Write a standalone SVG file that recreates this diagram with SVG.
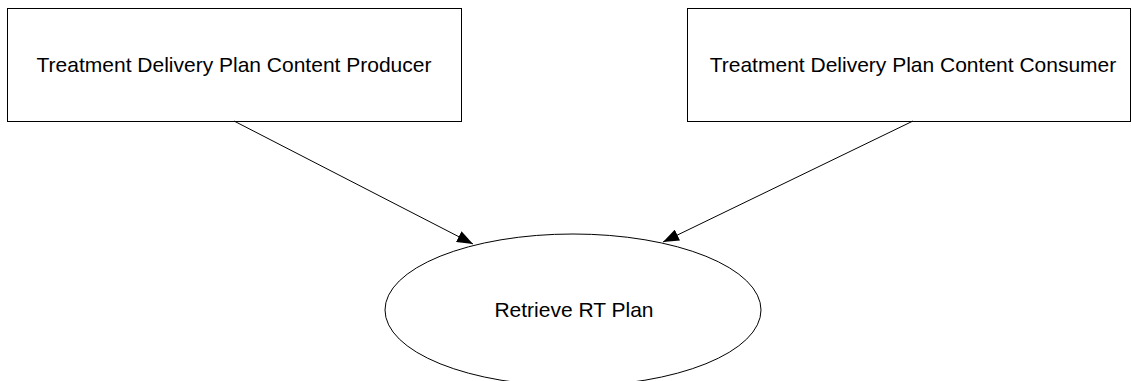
<svg xmlns="http://www.w3.org/2000/svg" width="1131" height="381" viewBox="0 0 1131 381">
<style>
.box{fill:#fff;stroke:#000;stroke-width:1}
.lbl{font-family:"Liberation Sans",Arial,sans-serif;font-size:21px;fill:#000;text-anchor:middle}
.edge{stroke:#000;stroke-width:1;fill:none}
</style>
<defs>
<marker id="arr" viewBox="0 0 16 12" refX="16" refY="6" markerWidth="16" markerHeight="12" markerUnits="userSpaceOnUse" orient="auto">
<path d="M0,0 L16,6 L0,12 Z" fill="#000"/>
</marker>
</defs>
<rect width="1131" height="381" fill="#fff"/>
<g id="producer">
<rect class="box" x="7.5" y="8.5" width="454" height="113"/>
<text class="lbl" x="234" y="72">Treatment Delivery Plan Content Producer</text>
</g>
<g id="consumer">
<rect class="box" x="687.5" y="8.5" width="443" height="113"/>
<text class="lbl" x="913" y="72">Treatment Delivery Plan Content Consumer</text>
</g>
<g id="retrieve">
<ellipse class="box" cx="573" cy="310" rx="188" ry="76"/>
<text class="lbl" x="574" y="317">Retrieve RT Plan</text>
</g>
<g id="connectors">
<line class="edge" x1="234" y1="121" x2="473" y2="244" marker-end="url(#arr)"/>
<line class="edge" x1="913" y1="121" x2="663" y2="242" marker-end="url(#arr)"/>
</g>
</svg>
